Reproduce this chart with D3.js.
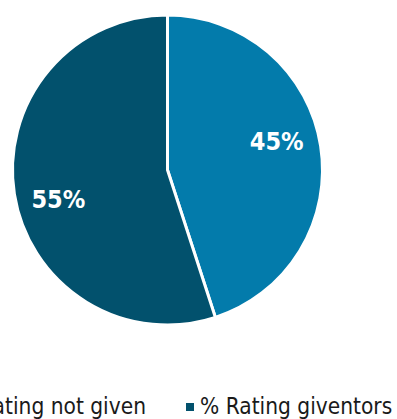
<!DOCTYPE html>
<html>
<head>
<meta charset="utf-8">
<script src="https://cdn.jsdelivr.net/npm/d3@7"></script>
<style>
  html, body { margin: 0; padding: 0; background: #fff; overflow: hidden; }
  svg { display: block; }
</style>
</head>
<body>
<svg id="chart" width="397" height="419"></svg>
<script>
// Share of respondents, in drawing order (clockwise from 12 o'clock)
const categories = ["% Rating giventors", "% Rating not given"];
const values = [45, 55];
const sliceColors = ["#037bab", "#02516d"];
const valueLabels = ["45%", "55%"];

// Legend entries, left to right
const legendLabels = ["% Rating not given", "% Rating giventors"];
const legendColors = ["#037bab", "#02516d"];

const svg = d3.select("#chart");
const cx = 167.5, cy = 170, radius = 155;

const pie = d3.pie().sort(null).value(d => d)(values);
const arc = d3.arc().innerRadius(0).outerRadius(radius);

const g = svg.append("g").attr("transform", `translate(${cx},${cy})`);

g.selectAll("path.slice")
  .data(pie)
  .join("path")
  .attr("class", "slice")
  .attr("d", arc)
  .attr("fill", (d, i) => sliceColors[i])
  .attr("stroke", "#fff")
  .attr("stroke-width", 3)
  .attr("stroke-linejoin", "miter");

// Value labels sit a little counter-clockwise of each slice's mid-angle
const labelR = 113, labelTurn = -6 * Math.PI / 180;
function labelPos(d) {
  const a = (d.startAngle + d.endAngle) / 2 + labelTurn;
  return [labelR * Math.sin(a), -labelR * Math.cos(a)];
}

g.selectAll("text.value")
  .data(pie)
  .join("text")
  .attr("class", "value")
  .attr("transform", d => `translate(${labelPos(d)})`)
  .attr("text-anchor", "middle")
  .attr("dy", "0.36em")
  .attr("fill", "#fff")
  .attr("font-family", "'DejaVu Sans Condensed', 'DejaVu Sans', sans-serif")
  .attr("font-weight", "bold")
  .attr("font-size", 25)
  .text((d, i) => valueLabels[i]);

// Legend row along the bottom edge
const legendFont = "'DejaVu Sans Condensed', 'DejaVu Sans', sans-serif";
const legendSize = 22.5;
const legendY = 414;
const item2X = 186;
const legend = svg.append("g");

// Second entry anchored at its marker; first entry ends just before it
const item2 = legend.append("g").attr("transform", `translate(${item2X},0)`);
item2.append("rect").attr("x", 0).attr("y", legendY - 11).attr("width", 8).attr("height", 8).attr("fill", legendColors[1]);
item2.append("text").attr("x", 14).attr("y", legendY)
  .attr("font-family", legendFont).attr("font-size", legendSize).attr("fill", "#1a1a1a")
  .text(legendLabels[1]);

const item1Text = legend.append("text").attr("x", 146).attr("y", legendY)
  .attr("text-anchor", "end")
  .attr("font-family", legendFont).attr("font-size", legendSize).attr("fill", "#1a1a1a")
  .text(legendLabels[0]);
const w1 = item1Text.node().getComputedTextLength();
legend.append("rect").attr("x", 146 - w1 - 14).attr("y", legendY - 11).attr("width", 8).attr("height", 8).attr("fill", legendColors[0]);
</script>
</body>
</html>
